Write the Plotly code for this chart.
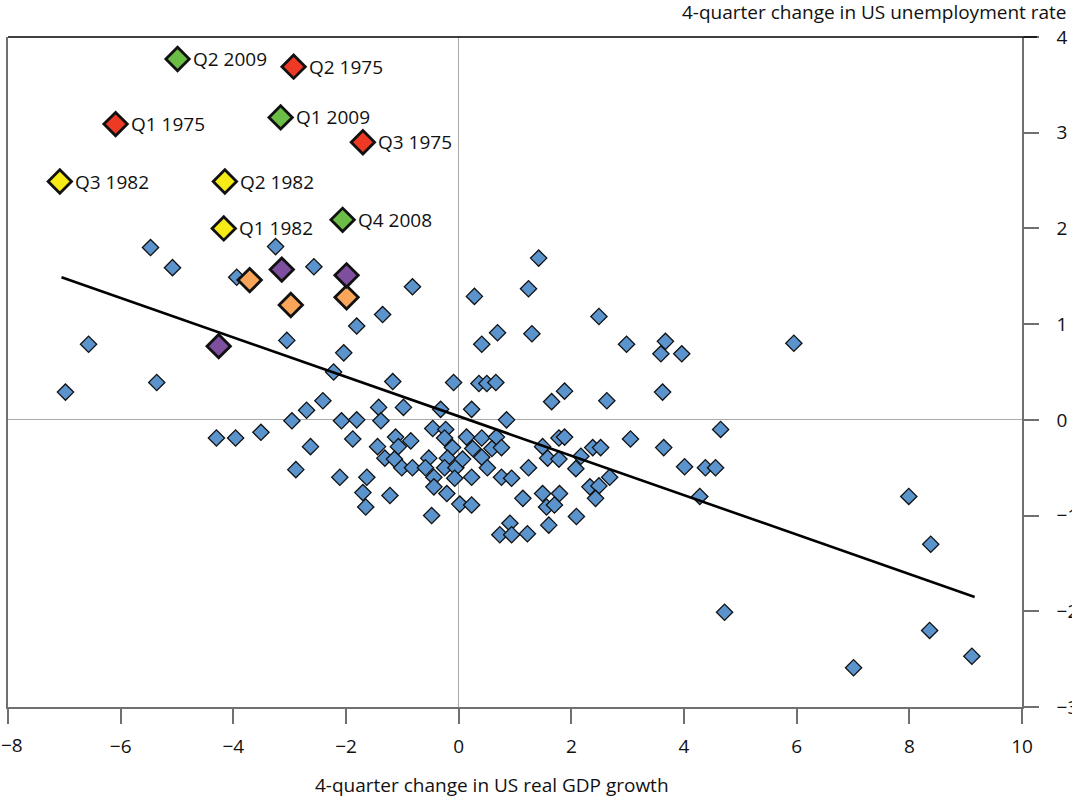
import plotly.graph_objects as go

# Quarterly observations: 4-quarter change in real GDP growth (x) vs
# 4-quarter change in the unemployment rate (y)
gdp_change = [
    -5.47, -3.25, -5.08, -3.94, -2.57, -1.81, -6.57, -3.05, -2.04, -2.22,
    -6.98, -5.36, -2.41, -2.70, -2.96, -2.08, -1.81, -4.30, -3.96, -3.51,
    -2.63, -1.88, -2.89, -2.11, -0.82, -1.35, 1.42, 0.28, 1.24, 2.49,
    0.69, 1.30, 0.41, 2.98, 3.67, 3.59, 3.96, -1.17, -0.09, 0.36,
    0.50, 0.66, 1.88, 1.65, 2.63, 3.62, -1.42, -0.98, -0.32, 0.23,
    -1.38, 0.85, -1.44, -1.12, -0.85, -1.07, -0.46, -0.23, -0.25, -0.11,
    0.14, 0.41, 0.67, 0.25, 0.59, 0.76, 0.41, 1.49, 1.78, 1.88,
    1.58, 1.78, 2.17, 2.08, 2.38, 2.52, 2.68, 3.05, 3.64, 4.01,
    -1.31, -1.14, -1.01, -0.82, -0.53, -0.59, -0.44, -0.20, -0.25, -0.05,
    0.07, -0.07, 0.23, 0.51, 0.76, 0.94, 1.24, -1.63, -1.70, -1.65,
    -1.22, -0.44, -0.21, 1.49, 1.79, 1.14, 2.33, 2.49, 2.43, -0.48,
    0.02, 0.23, 1.56, 1.70, 1.60, 2.09, 0.91, 0.73, 0.94, 1.22,
    5.95, 4.65, 4.38, 4.56, 4.28, 7.99, 8.38, 4.72, 8.36, 9.11,
    7.01,
]
unemp_change = [
    1.80, 1.81, 1.59, 1.49, 1.60, 0.98, 0.79, 0.83, 0.70, 0.50,
    0.29, 0.39, 0.20, 0.10, -0.01, -0.01, 0.00, -0.19, -0.19, -0.13,
    -0.28, -0.20, -0.52, -0.60, 1.39, 1.10, 1.69, 1.29, 1.37, 1.08,
    0.91, 0.90, 0.79, 0.79, 0.82, 0.69, 0.69, 0.40, 0.39, 0.38,
    0.38, 0.39, 0.30, 0.19, 0.20, 0.29, 0.13, 0.13, 0.11, 0.11,
    -0.01, 0.00, -0.28, -0.18, -0.22, -0.28, -0.09, -0.10, -0.19, -0.29,
    -0.18, -0.19, -0.18, -0.30, -0.30, -0.29, -0.39, -0.28, -0.19, -0.18,
    -0.40, -0.41, -0.38, -0.51, -0.29, -0.29, -0.60, -0.20, -0.29, -0.49,
    -0.40, -0.41, -0.50, -0.50, -0.40, -0.50, -0.60, -0.40, -0.50, -0.50,
    -0.41, -0.61, -0.60, -0.50, -0.60, -0.61, -0.50, -0.60, -0.76, -0.91,
    -0.79, -0.70, -0.77, -0.77, -0.77, -0.82, -0.70, -0.69, -0.82, -1.00,
    -0.88, -0.89, -0.91, -0.89, -1.10, -1.01, -1.08, -1.20, -1.20, -1.19,
    0.80, -0.10, -0.50, -0.50, -0.80, -0.80, -1.30, -2.01, -2.20, -2.47,
    -2.59,
]

# Recession quarters that are labelled
labelled_names = ["Q2 2009", "Q2 1975", "Q1 1975", "Q1 2009", "Q3 1975",
                  "Q3 1982", "Q2 1982", "Q1 1982", "Q4 2008"]
labelled_gdp = [-4.99, -2.93, -6.09, -3.16, -1.70, -7.08, -4.15, -4.17, -2.06]
labelled_unemp = [3.77, 3.69, 3.09, 3.16, 2.90, 2.49, 2.49, 2.00, 2.09]
labelled_group = ["2009", "1975", "1975", "2009", "1975",
                  "1982", "1982", "1982", "2009"]

# Other highlighted quarters (unlabelled)
purple_gdp = [-3.14, -1.99, -4.26]
purple_unemp = [1.57, 1.51, 0.77]
orange_gdp = [-3.71, -2.98, -1.99]
orange_unemp = [1.46, 1.20, 1.28]

# Fitted trend line end points
trend_gdp = [-7.05, 9.16]
trend_unemp = [1.49, -1.85]

x_ticks = [-8, -6, -4, -2, 0, 2, 4, 6, 8, 10]
y_ticks = [-3, -2, -1, 0, 1, 2, 3, 4]

group_colors = {"2009": "#6cbd45", "1975": "#ee3a24", "1982": "#f6eb16"}
FONT = "Open Sans"
FS = 19
AXIS_GREY = "#707070"


def minus(v):
    return str(v).replace("-", "\u2212")


# the leftmost x label is drawn separately, nudged inwards to stay on the page
x_ticktext = [minus(v) for v in x_ticks]
first_x_label = x_ticktext[0]
x_ticktext[0] = ""

fig = go.Figure()

fig.add_trace(go.Scatter(
    x=gdp_change, y=unemp_change, mode="markers",
    marker=dict(symbol="diamond", size=12.5, color="#5b93cd",
                line=dict(color="#111111", width=1.3)),
    hoverinfo="skip", showlegend=False,
))

fig.add_trace(go.Scatter(
    x=trend_gdp, y=trend_unemp, mode="lines",
    line=dict(color="#000000", width=2.6),
    hoverinfo="skip", showlegend=False,
))

fig.add_trace(go.Scatter(
    x=orange_gdp, y=orange_unemp, mode="markers",
    marker=dict(symbol="diamond", size=18, color="#f9a65a",
                line=dict(color="#111111", width=2.8)),
    hoverinfo="skip", showlegend=False,
))

fig.add_trace(go.Scatter(
    x=purple_gdp, y=purple_unemp, mode="markers",
    marker=dict(symbol="diamond", size=18, color="#7e4f9e",
                line=dict(color="#111111", width=2.8)),
    hoverinfo="skip", showlegend=False,
))

fig.add_trace(go.Scatter(
    x=labelled_gdp, y=labelled_unemp, mode="markers",
    marker=dict(symbol="diamond", size=18,
                color=[group_colors[g] for g in labelled_group],
                line=dict(color="#111111", width=2.8)),
    hoverinfo="skip", showlegend=False,
))

annotations = []
for name, gx, uy in zip(labelled_names, labelled_gdp, labelled_unemp):
    annotations.append(dict(
        x=gx, y=uy, xref="x", yref="y", text=name, showarrow=False,
        xanchor="left", yanchor="middle", xshift=13,
        font=dict(family=FONT, size=FS, color="#111111"),
    ))

annotations.append(dict(
    x=x_ticks[0], y=0, xref="x", yref="paper", text=first_x_label,
    showarrow=False, xanchor="center", yanchor="middle",
    xshift=4, yshift=-38,
    font=dict(family=FONT, size=FS, color="#111111"),
))

W, H = 1072, 801
L, R, T, B = 8, 50, 37, 94
pw, ph = W - L - R, H - T - B


def paper_x(px):
    return (px - L) / pw


def paper_y(py):
    return (H - B - py) / ph


annotations.append(dict(
    x=paper_x(1069), y=paper_y(12), xref="paper", yref="paper",
    text="4-quarter change in US unemployment rate", showarrow=False,
    xanchor="right", yanchor="middle",
    font=dict(family=FONT, size=FS, color="#111111"),
))
annotations.append(dict(
    x=paper_x(492), y=paper_y(785), xref="paper", yref="paper",
    text="4-quarter change in US real GDP growth", showarrow=False,
    xanchor="center", yanchor="middle",
    font=dict(family=FONT, size=FS, color="#111111"),
))

fig.update_layout(
    width=W, height=H,
    margin=dict(l=L, r=R, t=T, b=B, pad=0, autoexpand=False),
    paper_bgcolor="white", plot_bgcolor="white",
    font=dict(family=FONT, size=FS, color="#111111"),
    annotations=annotations,
    shapes=[dict(type="line", xref="paper", yref="paper",
                 x0=0, x1=paper_x(1037), y0=1, y1=1,
                 line=dict(color="#000000", width=1.5))],
)

fig.update_xaxes(
    range=[-8, 10], tickvals=x_ticks, ticktext=x_ticktext,
    showgrid=False, zeroline=True, zerolinecolor="#aaaaaa", zerolinewidth=1.2,
    showline=True, linecolor=AXIS_GREY, linewidth=1.5, mirror=False,
    ticks="outside", ticklen=15, tickwidth=1.5, tickcolor=AXIS_GREY,
    ticklabelstandoff=6, automargin=False, ticklabeloverflow="allow",
)
fig.update_yaxes(
    range=[-3, 4], side="right", tickvals=y_ticks,
    ticktext=[minus(v) for v in y_ticks],
    showgrid=False, zeroline=True, zerolinecolor="#aaaaaa", zerolinewidth=1.2,
    showline=True, linecolor=AXIS_GREY, linewidth=1.5, mirror=True,
    ticks="outside", ticklen=15, tickwidth=1.5, tickcolor=AXIS_GREY,
    ticklabelstandoff=14, automargin=False, ticklabeloverflow="allow",
)

fig.write_html("out.html")
